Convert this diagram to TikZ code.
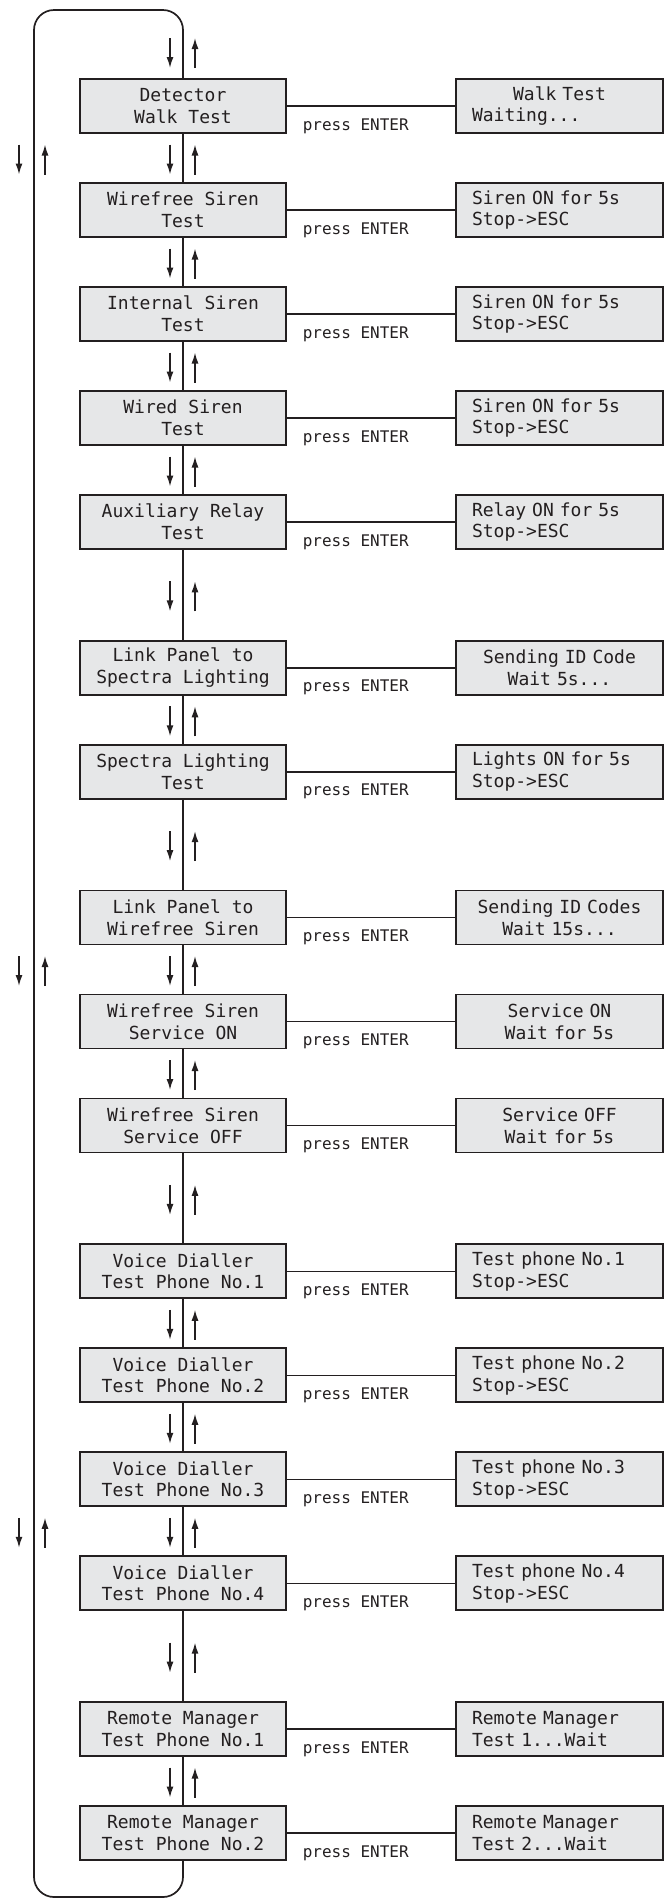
\documentclass[tikz,border=0pt]{standalone}
\usepackage{fontspec}
\setmonofont{DejaVu Sans Mono}
\usetikzlibrary{arrows.meta,positioning}

\definecolor{ink}{HTML}{231F20}
\definecolor{panel}{HTML}{E6E7E8}
\newlength\lcdw
\setlength\lcdw{175pt}
\newcommand\lcdmid[1]{\makebox[\lcdw]{#1}}

\begin{document}
\begin{tikzpicture}[>={Latex[length=11pt,width=7pt]},
  wire/.style={draw=ink,line width=1.5pt},
  menu/.style={draw=ink,fill=panel,line width=1.8pt,minimum width=206pt,minimum height=54pt,
    inner sep=0pt,outer sep=0pt,align=center,text=ink,font=\fontsize{18}{21.7}\selectfont\ttfamily},
  lcd/.style={menu,minimum width=207pt,text width=\lcdw,inner xsep=16pt,align=left},
  enter/.style={inner sep=0pt,text=ink,font=\fontsize{16}{19}\selectfont\ttfamily}]
\useasboundingbox (0,0) rectangle (669pt,-1899pt);

% loop back from the last menu to the first
\draw[wire,line width=1.7pt,rounded corners=20pt] (34pt,-10pt) rectangle (183pt,-1897pt);
\coordinate (rail) at (34pt,0);

% menu column
\node[menu] (b1) at (183pt,-106pt) {Detector\\Walk Test};
\node[menu,below=50pt of b1] (b2) {Wirefree Siren\\Test};
\node[menu,below=50pt of b2] (b3) {Internal Siren\\Test};
\node[menu,below=50pt of b3] (b4) {Wired Siren\\Test};
\node[menu,below=50pt of b4] (b5) {Auxiliary Relay\\Test};
\node[menu,below=91.75pt of b5] (b6) {Link Panel to\\Spectra Lighting};
\node[menu,below=50pt of b6] (b7) {Spectra Lighting\\Test};
\node[menu,below=91.75pt of b7] (b8) {Link Panel to\\Wirefree Siren};
\node[menu,below=50pt of b8] (b9) {Wirefree Siren\\Service ON};
\node[menu,below=50pt of b9] (b10) {Wirefree Siren\\Service OFF};
\node[menu,below=91.75pt of b10] (b11) {Voice Dialler\\Test Phone No.1};
\node[menu,below=50pt of b11] (b12) {Voice Dialler\\Test Phone No.2};
\node[menu,below=50pt of b12] (b13) {Voice Dialler\\Test Phone No.3};
\node[menu,below=50pt of b13] (b14) {Voice Dialler\\Test Phone No.4};
\node[menu,below=91.75pt of b14] (b15) {Remote Manager\\Test Phone No.1};
\node[menu,below=50pt of b15] (b16) {Remote Manager\\Test Phone No.2};

% display column
\node[lcd,right=170pt of b1] (r1) {\lcdmid{Walk Test}\\Waiting...};
\node[lcd,right=170pt of b2] (r2) {Siren ON for 5s\\Stop->ESC};
\node[lcd,right=170pt of b3] (r3) {Siren ON for 5s\\Stop->ESC};
\node[lcd,right=170pt of b4] (r4) {Siren ON for 5s\\Stop->ESC};
\node[lcd,right=170pt of b5] (r5) {Relay ON for 5s\\Stop->ESC};
\node[lcd,right=170pt of b6] (r6) {\lcdmid{Sending ID Code}\\\lcdmid{Wait 5s...}};
\node[lcd,right=170pt of b7] (r7) {Lights ON for 5s\\Stop->ESC};
\node[lcd,right=170pt of b8] (r8) {\lcdmid{Sending ID Codes}\\\lcdmid{Wait 15s...}};
\node[lcd,right=170pt of b9] (r9) {\lcdmid{Service ON}\\\lcdmid{Wait for 5s}};
\node[lcd,right=170pt of b10] (r10) {\lcdmid{Service OFF}\\\lcdmid{Wait for 5s}};
\node[lcd,right=170pt of b11] (r11) {Test phone No.1\\Stop->ESC};
\node[lcd,right=170pt of b12] (r12) {Test phone No.2\\Stop->ESC};
\node[lcd,right=170pt of b13] (r13) {Test phone No.3\\Stop->ESC};
\node[lcd,right=170pt of b14] (r14) {Test phone No.4\\Stop->ESC};
\node[lcd,right=170pt of b15] (r15) {Remote Manager\\Test 1...Wait};
\node[lcd,right=170pt of b16] (r16) {Remote Manager\\Test 2...Wait};

\foreach \i in {1,...,16}
  \draw[wire] (b\i) -- node[enter,pos=0,anchor=base west,xshift=16pt,yshift=-24pt] {press ENTER} (r\i);

% up/down keys
\coordinate (gap) at ([yshift=26pt]b1.north);
\draw[wire,->] ([xshift=-13pt,yshift=15pt]gap) -- ([xshift=-13pt,yshift=-15pt]gap);
\draw[wire,->] ([xshift=12pt,yshift=-15pt]gap) -- ([xshift=12pt,yshift=15pt]gap);
\foreach \u/\d in {b1/b2,b2/b3,b3/b4,b4/b5,b5/b6,b6/b7,b7/b8,b8/b9,b9/b10,b10/b11,b11/b12,b12/b13,b13/b14,b14/b15,b15/b16} {
  \path (\u.south) -- (\d.north) coordinate[midway,yshift=-1.5pt] (gap);
  \draw[wire,->] ([xshift=-13pt,yshift=15pt]gap) -- ([xshift=-13pt,yshift=-15pt]gap);
  \draw[wire,->] ([xshift=12pt,yshift=-15pt]gap) -- ([xshift=12pt,yshift=15pt]gap);
}
\foreach \u/\d in {b1/b2,b8/b9,b13/b14} {
  \path (\u.south) -- (\d.north) coordinate[midway,yshift=-1.5pt] (gap);
  \coordinate (side) at (gap -| rail);
  \draw[wire,->] ([xshift=-15pt,yshift=15pt]side) -- ([xshift=-15pt,yshift=-15pt]side);
  \draw[wire,->] ([xshift=11pt,yshift=-15pt]side) -- ([xshift=11pt,yshift=15pt]side);
}
\end{tikzpicture}
\end{document}
